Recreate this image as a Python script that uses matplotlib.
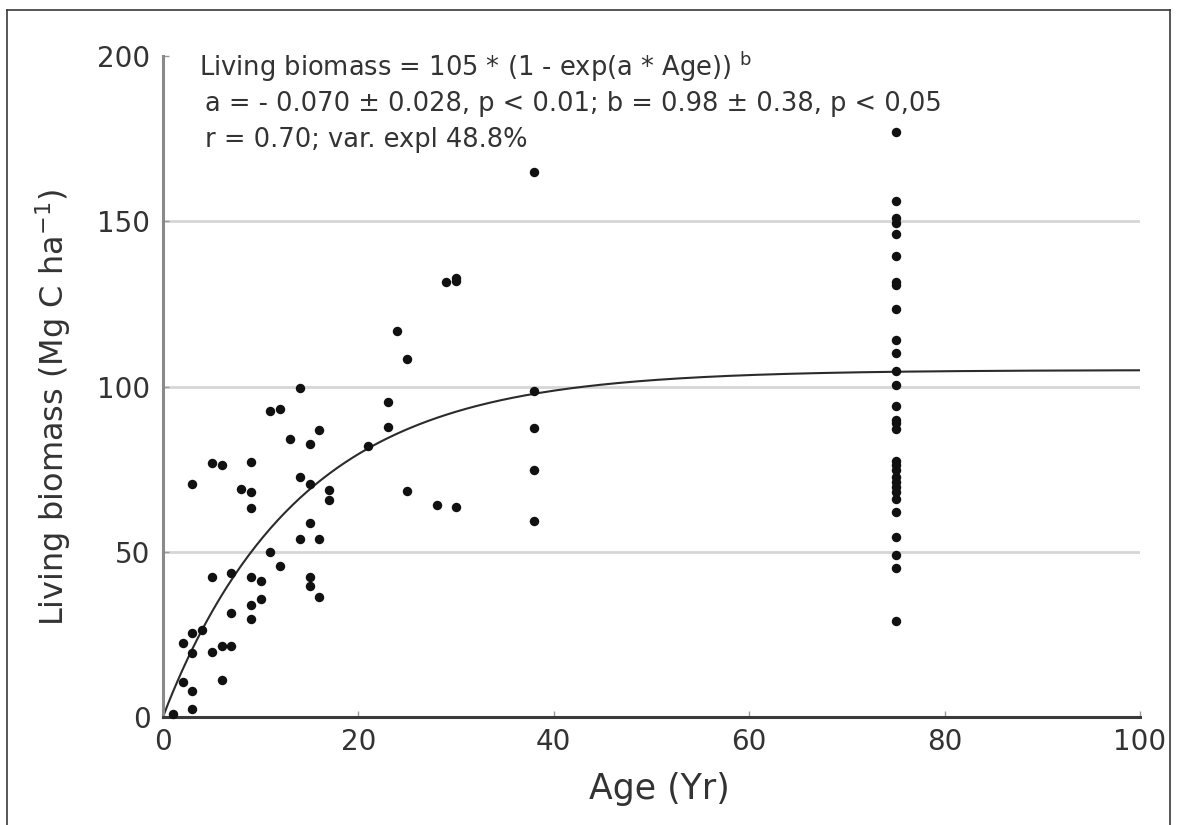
import numpy as np
import matplotlib
matplotlib.use("Agg")
import matplotlib.pyplot as plt
from matplotlib.lines import Line2D

plt.rcParams.update({
    "font.family": ["DejaVu Sans"],
    "mathtext.fontset": "custom",
    "mathtext.rm": "DejaVu Sans",
    "mathtext.it": "DejaVu Sans:italic",
    "mathtext.bf": "DejaVu Sans:bold",
    "figure.facecolor": "white",
    "axes.facecolor": "white",
})

# stand age (yr) and living biomass (Mg C/ha)
age = [1, 3, 3, 2, 6, 2, 3, 3, 4, 5, 6, 7, 7, 7, 5, 3, 5, 6, 8, 9,
       9, 9, 9, 10, 9, 9, 10, 11, 12, 11, 12, 13, 14, 14, 14, 15, 15, 15, 15, 15,
       16, 16, 16, 17, 17, 21, 23, 23, 24, 25, 25, 28, 29, 30, 30, 30,
       38, 38, 38, 38, 38]
biomass = [0.8, 2.4, 7.8, 10.6, 11.3, 22.4, 19.4, 25.5, 26.2, 19.7, 21.6, 21.6, 31.4, 43.6, 42.4, 70.5, 77.0, 76.3, 69.0, 68.0,
           63.3, 77.3, 42.4, 41.0, 34.0, 29.7, 35.7, 50.0, 45.7, 92.7, 93.3, 84.0, 99.5, 72.5, 53.8, 82.5, 70.6, 58.7, 42.4, 39.7,
           86.7, 53.8, 36.2, 68.6, 65.6, 82.0, 95.4, 87.8, 116.7, 108.4, 68.3, 64.1, 131.7, 132.0, 132.8, 63.5,
           164.8, 98.7, 87.3, 74.6, 59.4]

# the 75-yr stands
age_old = 75
biomass_old = [177, 156, 151, 149.5, 146, 139.5, 131.6, 130.8, 123.5, 114,
               110, 104.6, 100.5, 94, 90, 89, 87, 77.5, 76.3, 74.6,
               72.7, 71, 69.5, 68, 66, 62, 54.6, 49, 45, 29]

# fitted model printed on the chart
fit_max, fit_a, fit_b = 105, -0.070, 0.98

fig = plt.figure(figsize=(11.77, 8.25), dpi=100)
ax = fig.add_axes([163 / 1177, 1 - 717 / 825, 977 / 1177, 661 / 825])

for yg in [50, 100, 150]:
    ax.axhline(yg, color="#d6d6d6", lw=2, zorder=0)

xs = np.linspace(0, 100, 400)
ax.plot(xs, fit_max * (1 - np.exp(fit_a * xs)) ** fit_b, color="#2b2b2b", lw=1.5, zorder=2)

ax.plot(age, biomass, "o", color="#111111", ms=6.8, mec="none", zorder=3, clip_on=False)
ax.plot([age_old] * len(biomass_old), biomass_old, "o", color="#111111", ms=6.8, mec="none", zorder=3)

ax.set_xlim(0, 100)
ax.set_ylim(0, 200)
ax.set_xticks([0, 20, 40, 60, 80, 100])
ax.set_yticks([0, 50, 100, 150, 200])

for s in ["top", "right"]:
    ax.spines[s].set_visible(False)
ax.spines["left"].set_color("#8a8a8a")
ax.spines["left"].set_linewidth(2.2)
ax.spines["bottom"].set_color("#3a3a3a")
ax.spines["bottom"].set_linewidth(2.2)

ax.tick_params(axis="both", direction="in", length=4, width=1, colors="#9a9a9a",
               labelcolor="#333333", labelsize=20)
ax.tick_params(axis="x", pad=8)
ax.tick_params(axis="y", pad=9)

ax.set_xlabel("Age (Yr)", fontsize=25, color="#333333")
ax.xaxis.set_label_coords(0.508, -0.083)
ax.set_ylabel(r"Living biomass (Mg C ha$^{-1}$)", fontsize=23, color="#333333")
ax.yaxis.set_label_coords(-0.092, 0.469)

txt = dict(transform=ax.transAxes, fontsize=18.5, color="#333333", va="center", ha="left")
ax.text(0.037, 0.983, r"Living biomass = 105 * (1 - exp(a * Age)) $^{\mathregular{b}}$", **txt)
ax.text(0.043, 0.927, "a = - 0.070 \u00b1 0.028, p < 0.01; b = 0.98 \u00b1 0.38, p < 0,05", **txt)
ax.text(0.043, 0.873, "r = 0.70; var. expl 48.8%", **txt)

# outer frame of the figure panel
fl, fr, ft = 7 / 1177, 1170 / 1177, 1 - 10 / 825
for xd, yd in [([fl, fl], [0, ft]), ([fl, fr], [ft, ft]), ([fr, fr], [0, ft])]:
    fig.add_artist(Line2D(xd, yd, color="#3a3a3a", lw=1.2, transform=fig.transFigure))

fig.savefig("out.png", dpi=100)
